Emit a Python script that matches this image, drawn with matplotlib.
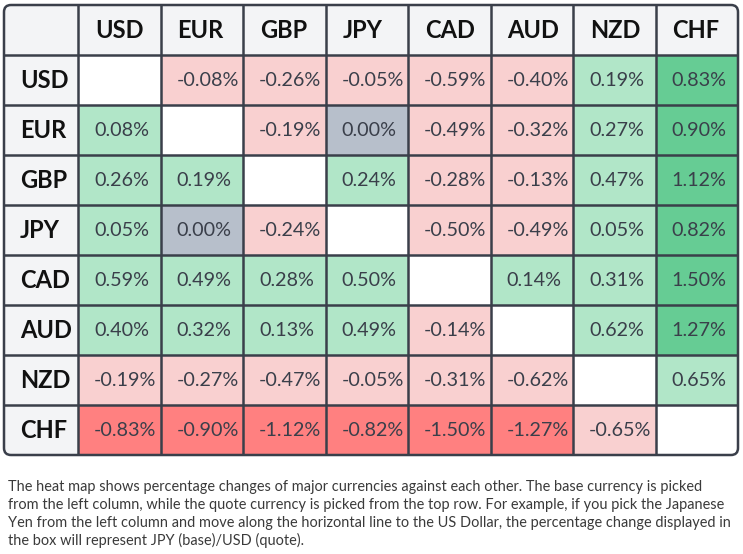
import matplotlib
matplotlib.use('Agg')
from matplotlib import pyplot as plt
from matplotlib.patches import Rectangle, FancyBboxPatch

currencies = ['USD', 'EUR', 'GBP', 'JPY', 'CAD', 'AUD', 'NZD', 'CHF']
# rows = base currency, columns = quote currency (None on the diagonal)
changes = [
    [None, -0.08, -0.26, -0.05, -0.59, -0.40, 0.19, 0.83],
    [0.08, None, -0.19, 0.00, -0.49, -0.32, 0.27, 0.90],
    [0.26, 0.19, None, 0.24, -0.28, -0.13, 0.47, 1.12],
    [0.05, 0.00, -0.24, None, -0.50, -0.49, 0.05, 0.82],
    [0.59, 0.49, 0.28, 0.50, None, 0.14, 0.31, 1.50],
    [0.40, 0.32, 0.13, 0.49, -0.14, None, 0.62, 1.27],
    [-0.19, -0.27, -0.47, -0.05, -0.31, -0.62, None, 0.65],
    [-0.83, -0.90, -1.12, -0.82, -1.50, -1.27, -0.65, None],
]
caption_lines = [
    "The heat map shows percentage changes of major currencies against each other. The base currency is picked",
    "from the left column, while the quote currency is picked from the top row. For example, if you pick the Japanese",
    "Yen from the left column and move along the horizontal line to the US Dollar, the percentage change displayed in",
    "the box will represent JPY (base)/USD (quote).",
]

LINE = '#3a3f4a'
HEAD_BG = '#f3f4f6'

def cell_color(v):
    if v is None:
        return 'white'
    if v == 0:
        return '#b7bfcb'
    if v > 0:
        return '#66cc94' if v >= 0.7 else '#b1e6c8'
    return '#ff8080' if v <= -0.7 else '#f9d0d0'

W, H = 743, 554
fig = plt.figure(figsize=(W / 100, H / 100), dpi=100)
ax = fig.add_axes([0, 0, 1, 1])
ax.set_xlim(0, W)
ax.set_ylim(H, 0)
ax.axis('off')

left, top = 4, 5
first_w = 74
col_w = (738 - left - first_w) / 8
row_h = 50
right = left + first_w + 8 * col_w
bottom = top + 9 * row_h

def col_x(j):
    return left + first_w + j * col_w

# table background (rounded)
ax.add_patch(FancyBboxPatch((left, top), right - left, bottom - top,
                            boxstyle='round,pad=0,rounding_size=7',
                            fc=HEAD_BG, ec='none', zorder=0))

# cells
for i, row in enumerate(changes):
    y = top + (i + 1) * row_h
    for j, v in enumerate(row):
        ax.add_patch(Rectangle((col_x(j), y), col_w, row_h, fc=cell_color(v), ec='none', zorder=1))
        if v is not None:
            ax.text(col_x(j) + 16, y + row_h / 2 + 1, '%.2f%%' % v, ha='left', va='center',
                    fontsize=14.2, family='Lato', color=LINE, zorder=3)

# headers
for j, c in enumerate(currencies):
    ax.text(col_x(j) + 17, top + row_h / 2 + 1, c, ha='left', va='center',
            fontsize=17, family='Lato', fontweight='bold', color='#111111', zorder=3)
    ax.text(left + 16, top + (j + 1) * row_h + row_h / 2 + 1, c, ha='left', va='center',
            fontsize=17, family='Lato', fontweight='bold', color='#111111', zorder=3)

# grid lines
for k in range(1, 9):
    y = top + k * row_h
    ax.plot([left, right], [y, y], color=LINE, lw=1.8, zorder=4, solid_capstyle='butt')
ax.plot([left + first_w] * 2, [top, bottom], color=LINE, lw=1.8, zorder=4, solid_capstyle='butt')
for j in range(1, 8):
    x = col_x(j)
    ax.plot([x, x], [top, bottom], color=LINE, lw=1.8, zorder=4, solid_capstyle='butt')

ax.add_patch(FancyBboxPatch((left, top), right - left, bottom - top,
                            boxstyle='round,pad=0,rounding_size=7',
                            fc='none', ec=LINE, lw=1.8, zorder=5))

# caption: font size picked so the widest line fits like in the source
renderer = fig.canvas.get_renderer()
probe = ax.text(0, 0, caption_lines[2], fontsize=10, family='Lato')
w10 = probe.get_window_extent(renderer).width
probe.remove()
cap_size = 10 * 722.0 / w10

for k, line in enumerate(caption_lines):
    ax.text(8, 491 + k * 18, line, ha='left', va='baseline', fontsize=cap_size, family='Lato',
            color='#3a3a3a')

plt.savefig('out.png', dpi=100)
plt.close()
